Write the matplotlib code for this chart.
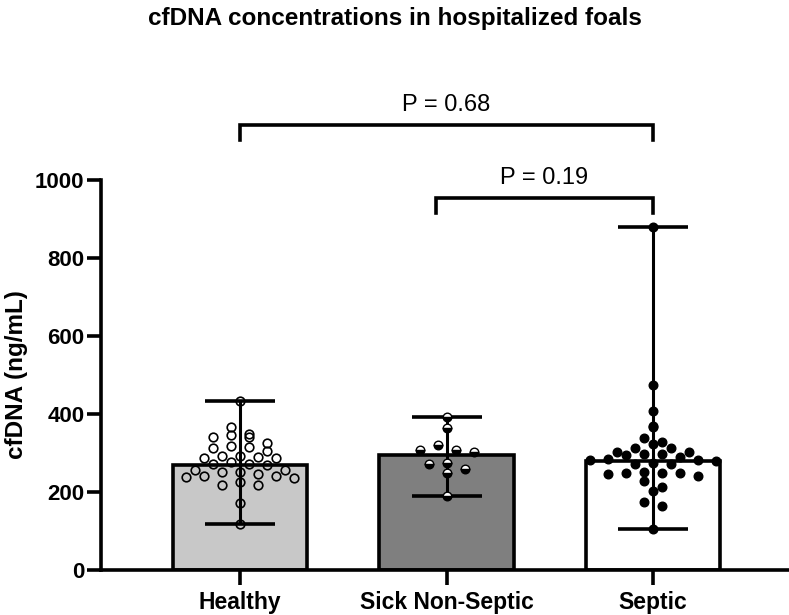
import numpy as np
import matplotlib
matplotlib.use('Agg')
from matplotlib import pyplot as plt

plt.rcParams['font.family'] = ['Liberation Sans', 'DejaVu Sans']

GROUPS = ['Healthy', 'Sick Non-Septic', 'Septic']
BAR_HEIGHTS = [270, 296, 280]

HEALTHY = [433, 367, 350, 346, 340, 340, 325, 319, 316, 312, 305, 293, 292, 291,
           288, 288, 276, 271, 271, 268, 257, 257, 251, 251, 246, 242, 240, 238,
           235, 225, 219, 217, 173, 119]
SICK = [392, 363, 320, 308, 308, 302, 274, 271, 258, 248, 191]
SEPTIC = [879, 474, 409, 370, 367, 338, 327, 322, 312, 312, 302, 302, 298, 297,
          295, 291, 284, 282, 282, 280, 274, 272, 272, 251, 250, 250, 248, 246,
          240, 227, 214, 203, 174, 165, 106]

P_LABELS = ['P = 0.68', 'P = 0.19']
COMPARISONS = [(0, 2), (1, 2)]

BAR_COLORS = ['#c8c8c8', '#7f7f7f', 'white']
LW = 2.6


def swarm_offsets(ax, values, diam_px):
    # GraphPad-like rows: bin by pixel height, spread each row on a grid
    trans = ax.transData
    vals = np.asarray(values, dtype=float)
    ys = np.array([trans.transform((0, v))[1] for v in vals])
    px_per_unit = trans.transform((1, 0))[0] - trans.transform((0, 0))[0]
    bins = np.floor(ys / diam_px).astype(int)
    offs = np.zeros(len(vals))
    for b in np.unique(bins):
        idx = np.where(bins == b)[0]
        n = len(idx)
        slots = (np.arange(n) - (n - 1) / 2.0) * 2 * diam_px
        # put points in centre-out order
        order = np.argsort(np.abs(slots), kind='stable')
        for j, k in enumerate(idx):
            offs[k] = slots[order[j]] / px_per_unit
    return offs


if __name__ == "__main__":
    fig = plt.figure(figsize=(7.89, 6.15), dpi=100)
    ax = fig.add_axes([0.128, 0.0732, 0.872, 0.634])
    x = np.arange(len(GROUPS))
    ax.set_xlim(-0.675, 2.66)
    ax.set_ylim(0, 1000)

    ax.bar(x, BAR_HEIGHTS, width=0.65, color=BAR_COLORS, edgecolor='black',
           linewidth=LW, zorder=1)

    data = [HEALTHY, SICK, SEPTIC]
    for i, vals in enumerate(data):
        vals = np.array(vals)
        lo, hi = vals.min(), vals.max()
        ax.errorbar([i], [BAR_HEIGHTS[i]],
                    yerr=[[BAR_HEIGHTS[i] - lo], [hi - BAR_HEIGHTS[i]]],
                    fmt='none', ecolor='black', elinewidth=2.2, capsize=25,
                    capthick=2.6, zorder=2)

    fig.canvas.draw()
    diam = 9.0
    offs = [swarm_offsets(ax, d, diam) for d in data]

    ax.plot(0 + offs[0], HEALTHY, 'o', ms=6.2, mfc='none', mec='black', mew=1.2,
            ls='none', zorder=3)
    ax.plot(1 + offs[1], SICK, 'o', ms=6.2, fillstyle='bottom', mfc='black',
            markerfacecoloralt='white', mec='black', mew=1.0, ls='none', zorder=3)
    ax.plot(2 + offs[2], SEPTIC, 'o', ms=6.2, mfc='black', mec='black', mew=1.0,
            ls='none', zorder=3)

    # significance brackets
    levels = [1141, 954]
    for (a, b), lab, yl in zip(COMPARISONS, P_LABELS, levels):
        xa = a if a == 0 else a - 0.05
        ax.plot([xa, xa, b, b], [yl - 38, yl, yl, yl - 38], color='black',
                lw=LW, clip_on=False, solid_joinstyle='miter')
        ax.text((xa + b) / 2, yl + 24, lab, ha='center', va='bottom',
                fontsize=17)

    for s in ['top', 'right']:
        ax.spines[s].set_visible(False)
    for s in ['left', 'bottom']:
        ax.spines[s].set_linewidth(LW)
    ax.set_yticks([0, 200, 400, 600, 800, 1000])
    ax.set_xticks(x)
    ax.set_xticklabels(GROUPS, fontsize=16.5, fontweight='bold')
    ax.tick_params(axis='y', length=10, width=LW, labelsize=16, pad=2)
    ax.tick_params(axis='x', length=11, width=LW, pad=4)
    for t in ax.get_yticklabels():
        t.set_fontweight('bold')
    ax.set_ylabel('cfDNA (ng/mL)', fontsize=17.5, fontweight='bold', labelpad=5)

    fig.text(0.5, 0.97, 'cfDNA concentrations in hospitalized foals',
             ha='center', va='center', fontsize=17.5, fontweight='bold')

    fig.savefig('out.png', dpi=100)
